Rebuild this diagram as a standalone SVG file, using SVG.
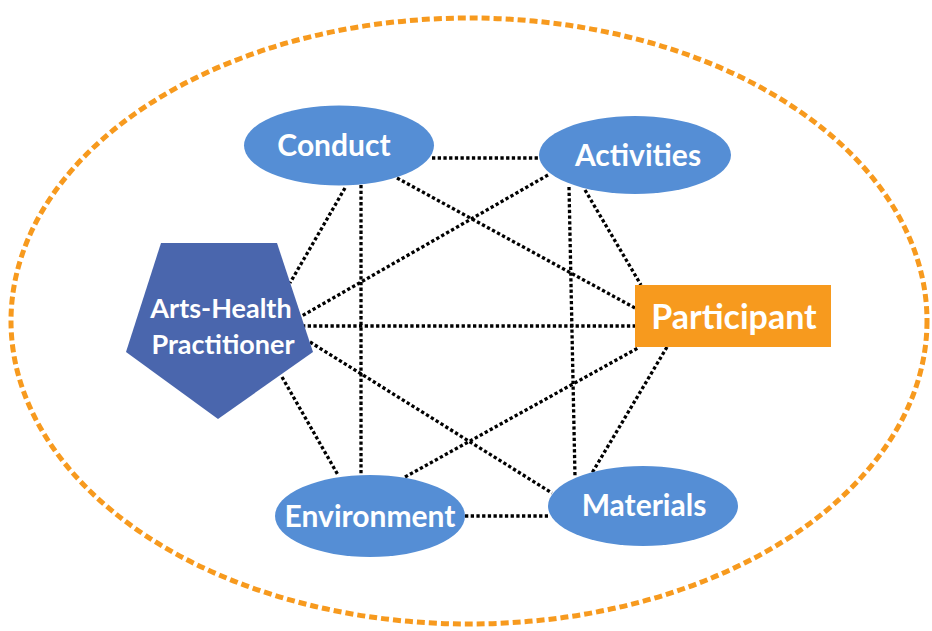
<svg xmlns="http://www.w3.org/2000/svg" width="932" height="631" viewBox="0 0 932 631">
<style>
.ell{fill:#558ed5;}
.lbl{fill:#ffffff;font-family:Lato,"Liberation Sans",sans-serif;font-weight:bold;font-size:30px;text-anchor:middle;}
.con line{stroke:#000;stroke-width:3.3;stroke-dasharray:3.3 2.4;fill:none;}
</style>
<rect width="932" height="631" fill="#ffffff"/>
<ellipse id="boundary" cx="469" cy="321" rx="458" ry="303" fill="none" stroke="#f79a1e" stroke-width="5" stroke-dasharray="8 4"/>
<g class="con" id="connectors">
<line x1="432" y1="158" x2="540" y2="158"/>
<line x1="345" y1="188" x2="290" y2="283"/>
<line x1="361" y1="185" x2="361" y2="475"/>
<line x1="397" y1="178" x2="635" y2="308"/>
<line x1="548" y1="175" x2="300" y2="317"/>
<line x1="569" y1="187" x2="575" y2="477"/>
<line x1="585" y1="190" x2="641" y2="285"/>
<line x1="302" y1="326" x2="635" y2="326"/>
<line x1="310" y1="342" x2="552" y2="493"/>
<line x1="282" y1="377" x2="338" y2="475"/>
<line x1="405" y1="477" x2="638" y2="348"/>
<line x1="667" y1="347" x2="592" y2="473"/>
<line x1="465" y1="516" x2="548" y2="516"/>
</g>
<g id="conduct">
<ellipse class="ell" cx="339" cy="145.5" rx="95" ry="40"/>
<text class="lbl" x="334" y="156">Conduct</text>
</g>
<g id="activities">
<ellipse class="ell" cx="635" cy="155" rx="96" ry="39"/>
<text class="lbl" x="638" y="166">Activities</text>
</g>
<g id="practitioner">
<polygon points="161,243 277,243 313,352 218,419 126,352" fill="#4a66ad"/>
<text class="lbl" x="221" y="318" style="font-size:27px">Arts-Health</text>
<text class="lbl" x="223" y="354" style="font-size:27px">Practitioner</text>
</g>
<g id="participant">
<rect x="635" y="285" width="196" height="62" fill="#f79a1e"/>
<text class="lbl" x="734" y="329" style="font-size:34px">Participant</text>
</g>
<g id="environment">
<ellipse class="ell" cx="370" cy="516" rx="95" ry="41"/>
<text class="lbl" x="370" y="527">Environment</text>
</g>
<g id="materials">
<ellipse class="ell" cx="643" cy="506" rx="95" ry="40"/>
<text class="lbl" x="644" y="516">Materials</text>
</g>
</svg>
